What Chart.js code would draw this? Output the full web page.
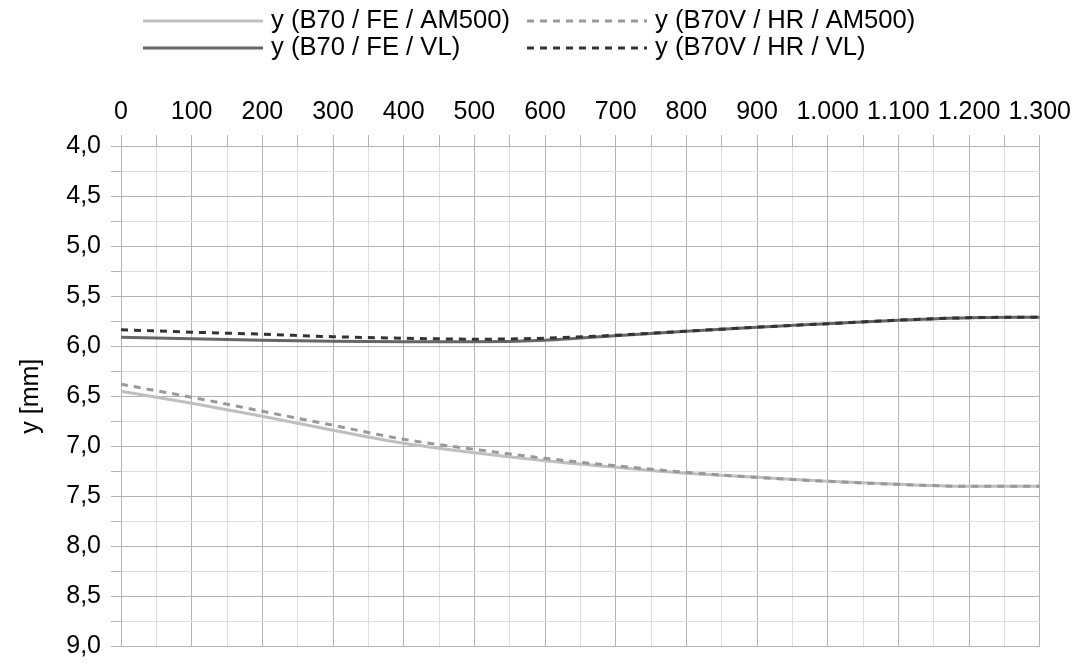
<!DOCTYPE html>
<html>
<head>
<meta charset="utf-8">
<script src="https://cdn.jsdelivr.net/npm/chart.js@4.4.1/dist/chart.umd.min.js"></script>
<style>
  body { margin: 0; background: #fff; }
</style>
</head>
<body>
<canvas id="chart" width="1079" height="669"></canvas>
<script>
// distance values (x axis, shown on top)
const xValues = [0, 100, 200, 300, 400, 500, 600, 700, 800, 900, 1000, 1100, 1200, 1300];

// y [mm] per series
const feAm500 = [6.45, 6.57, 6.70, 6.84, 6.97, 7.065, 7.145, 7.21, 7.27, 7.31, 7.35, 7.38, 7.40, 7.40];
const hrAm500 = [6.38, 6.51, 6.65, 6.79, 6.93, 7.03, 7.12, 7.195, 7.26, 7.31, 7.35, 7.38, 7.40, 7.40];
const feVl    = [5.91, 5.925, 5.94, 5.95, 5.955, 5.955, 5.94, 5.895, 5.85, 5.81, 5.775, 5.74, 5.715, 5.71];
const hrVl    = [5.835, 5.86, 5.88, 5.905, 5.92, 5.93, 5.92, 5.89, 5.85, 5.81, 5.775, 5.74, 5.715, 5.71];

const seriesLabels = ['y (B70 / FE / AM500)', 'y (B70V / HR / AM500)', 'y (B70 / FE / VL)', 'y (B70V / HR / VL)'];

const FONT = 'Liberation Sans, Arial, sans-serif';

function pts(ys) {
    return ys.map((y, i) => ({ x: xValues[i], y: y }));
}

function fmtThousands(v) {
    return String(v).replace(/\B(?=(\d{3})+(?!\d))/g, '.');
}

// two-column legend like the office chart
const legendX = [143, 527];
const legendY = [21, 48];
const gridLegend = {
    id: 'gridLegend',
    afterDraw(chart) {
        const c = chart.ctx;
        c.save();
        c.font = '25.6px ' + FONT;
        c.textBaseline = 'middle';
        chart.data.datasets.forEach((ds, i) => {
            const x = legendX[i % 2];
            const y = legendY[Math.floor(i / 2)];
            c.strokeStyle = ds.borderColor;
            c.lineWidth = ds.borderWidth;
            c.setLineDash(ds.borderDash || []);
            c.beginPath();
            c.moveTo(x, y);
            c.lineTo(x + 120, y);
            c.stroke();
            c.setLineDash([]);
            c.fillStyle = '#000';
            c.fillText(ds.label, x + 128, y);
        });
        c.restore();
    }
};

const ctx = document.getElementById('chart');

new Chart(ctx, {
    type: 'line',
    data: {
        datasets: [{
            label: seriesLabels[0],
            data: pts(feAm500),
            borderColor: '#bfbfbf',
            borderWidth: 3,
            order: 1
        },
        {
            label: seriesLabels[1],
            data: pts(hrAm500),
            borderColor: '#999999',
            borderWidth: 3,
            borderDash: [7, 6],
            order: 0
        },
        {
            label: seriesLabels[2],
            data: pts(feVl),
            borderColor: '#666666',
            borderWidth: 3,
            order: 1
        },
        {
            label: seriesLabels[3],
            data: pts(hrVl),
            borderColor: '#333333',
            borderWidth: 3,
            borderDash: [7, 6],
            order: 0
        }]
    },
    options: {
        responsive: false,
        animation: false,
        devicePixelRatio: 1,
        layout: { padding: { top: 0, right: 36, bottom: 13, left: 0 } },
        elements: {
            point: { radius: 0 },
            line: { cubicInterpolationMode: 'monotone', fill: false }
        },
        plugins: {
            legend: { display: false },
            tooltip: { enabled: false }
        },
        scales: {
            x: {
                type: 'linear',
                position: 'top',
                min: 0,
                max: 1300,
                afterFit: (s) => { s.height = 146; },
                grid: {
                    color: (c) => (c.tick && c.tick.value % 100 === 0) ? '#b3b3b3' : '#dedede',
                    tickColor: '#b3b3b3',
                    tickLength: 11
                },
                border: { color: '#b3b3b3' },
                ticks: {
                    stepSize: 50,
                    autoSkip: false,
                    maxRotation: 0,
                    padding: 8,
                    color: '#000',
                    font: { family: FONT, size: 25 },
                    callback: (v) => v % 100 === 0 ? fmtThousands(v) : ''
                }
            },
            y: {
                type: 'linear',
                reverse: true,
                min: 4,
                max: 9,
                afterFit: (s) => { s.width = 121; },
                title: {
                    display: true,
                    text: 'y [mm]',
                    color: '#000',
                    font: { family: FONT, size: 25 },
                    padding: { top: 16, bottom: 0 }
                },
                grid: {
                    color: (c) => (c.tick && Math.round(c.tick.value * 100) % 50 === 0) ? '#b3b3b3' : '#dedede',
                    tickColor: '#b3b3b3',
                    tickLength: 10
                },
                border: { color: '#b3b3b3' },
                ticks: {
                    stepSize: 0.25,
                    autoSkip: false,
                    padding: 10,
                    color: '#000',
                    font: { family: FONT, size: 25, lineHeight: 1 },
                    callback: (v) => Math.round(v * 100) % 50 === 0 ? v.toFixed(1).replace('.', ',') : ''
                }
            }
        }
    },
    plugins: [gridLegend]
});
</script>
</body>
</html>
